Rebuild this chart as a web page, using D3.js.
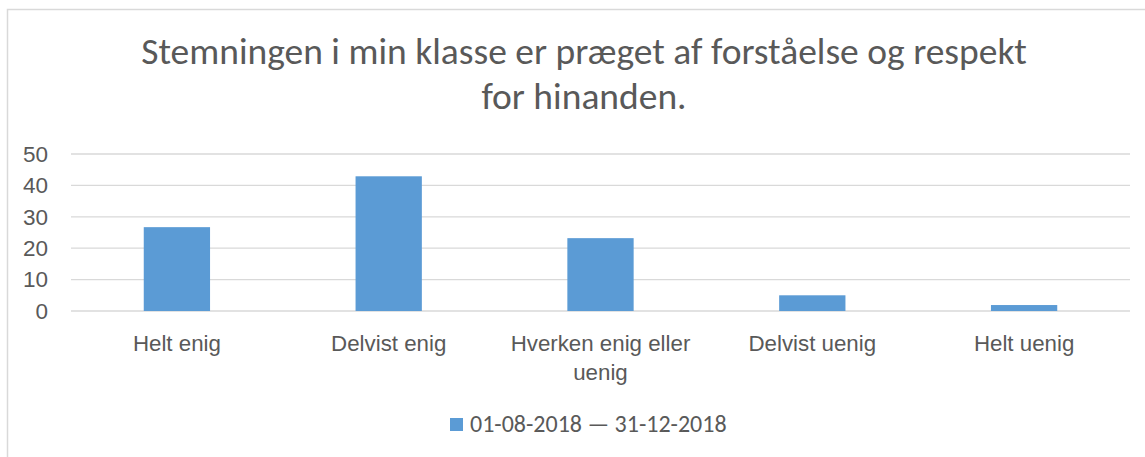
<!DOCTYPE html>
<html>
<head>
<meta charset="utf-8">
<script src="https://cdn.jsdelivr.net/npm/d3@7"></script>
<style>
  html, body { margin: 0; padding: 0; background: #fff; }
  svg { display: block; font-family: Carlito, Calibri, 'Open Sans', sans-serif; }
</style>
</head>
<body>
<div id="chart"></div>
<script>
// chart data
const titleLines = ['Stemningen i min klasse er præget af forståelse og respekt', 'for hinanden.'];
const categories = ['Helt enig', 'Delvist enig', 'Hverken enig eller uenig', 'Delvist uenig', 'Helt uenig'];
const values = [26.7, 42.9, 23.2, 5.0, 1.9];
const yTicks = [0, 10, 20, 30, 40, 50];
const seriesName = '01-08-2018 — 31-12-2018';

const width = 1145;
const height = 457;
const margin = { top: 154, right: 15, bottom: 146, left: 71 };
const textColor = '#595959';
const barColor = '#5b9bd5';
const gridColor = '#d9d9d9';

const svg = d3.select('#chart')
  .append('svg')
  .attr('width', width)
  .attr('height', height);

// outer chart border
svg.append('rect')
  .attr('x', 7.5)
  .attr('y', 9.5)
  .attr('width', width)
  .attr('height', height)
  .attr('fill', 'none')
  .attr('stroke', gridColor)
  .attr('stroke-width', 1.5);

// Title
svg.append('text')
  .attr('text-anchor', 'middle')
  .attr('fill', textColor)
  .style('font-size', '37.5px')
  .selectAll('tspan')
  .data(titleLines)
  .join('tspan')
  .attr('x', 584)
  .attr('y', (d, i) => 64 + i * 45)
  .text(d => d);

const innerW = width - margin.left - margin.right;
const innerH = height - margin.top - margin.bottom;

const g = svg.append('g')
  .attr('transform', `translate(${margin.left},${margin.top})`);

// Scales
const x = d3.scaleBand()
  .domain(categories)
  .range([0, innerW])
  .paddingInner(0.687)
  .paddingOuter(0.3435);

const y = d3.scaleLinear()
  .domain([0, 50])
  .range([innerH, 0]);

// Gridlines
g.append('g')
  .selectAll('line')
  .data(yTicks)
  .join('line')
  .attr('x1', 0)
  .attr('x2', innerW)
  .attr('y1', d => y(d))
  .attr('y2', d => y(d))
  .attr('stroke', gridColor)
  .attr('stroke-width', 1.3);

// Y axis labels
const yAxis = g.append('g')
  .call(d3.axisLeft(y).tickValues(yTicks).tickSize(0).tickPadding(23));
yAxis.select('.domain').remove();
yAxis.selectAll('text')
  .attr('fill', textColor)
  .style('font-family', null)
  .style('font-size', '22.5px');

// Bars
g.selectAll('.bar')
  .data(values)
  .join('rect')
  .attr('class', 'bar')
  .attr('x', (d, i) => x(categories[i]))
  .attr('y', d => y(d))
  .attr('width', x.bandwidth())
  .attr('height', d => y(0) - y(d))
  .attr('fill', barColor);

// X axis labels, wrapped like Excel does
const xAxis = g.append('g')
  .attr('transform', `translate(0,${innerH})`)
  .call(d3.axisBottom(x).tickSize(0).tickPadding(0));
xAxis.select('.domain').remove();
xAxis.selectAll('text')
  .attr('fill', textColor)
  .style('font-family', null)
  .style('font-size', '22.3px')
  .each(function(d) {
    const text = d3.select(this);
    const words = d.split(' ');
    const maxW = x.step() * 0.97;
    text.text(null).attr('dy', null).attr('y', null);
    let line = [];
    let lineNo = 0;
    let tspan = text.append('tspan').attr('x', 0).attr('y', 39.5);
    words.forEach(w => {
      line.push(w);
      tspan.text(line.join(' '));
      if (tspan.node().getComputedTextLength() > maxW && line.length > 1) {
        line.pop();
        tspan.text(line.join(' '));
        line = [w];
        lineNo++;
        tspan = text.append('tspan').attr('x', 0).attr('y', 39.5 + lineNo * 29).text(w);
      }
    });
  });

// Legend
const legend = svg.append('g')
  .attr('transform', 'translate(450,418)');
legend.append('rect')
  .attr('width', 13)
  .attr('height', 13)
  .attr('fill', barColor);
legend.append('text')
  .attr('x', 20)
  .attr('y', 14)
  .attr('fill', textColor)
  .style('font-size', '24px')
  .text(seriesName);
</script>
</body>
</html>
